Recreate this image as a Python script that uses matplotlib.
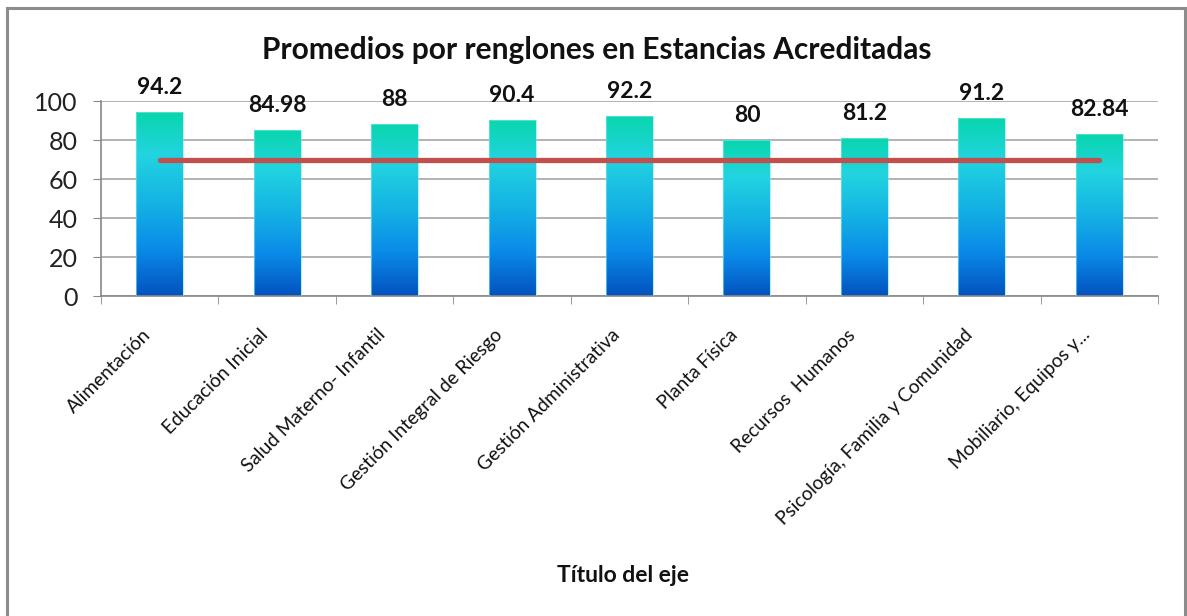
import numpy as np
import matplotlib
matplotlib.use("Agg")
import matplotlib.pyplot as plt
from matplotlib.colors import LinearSegmentedColormap
from matplotlib.lines import Line2D
from matplotlib.transforms import ScaledTranslation

plt.rcParams['font.family'] = ['Lato', 'DejaVu Sans']

# ====================== datos ======================
categorias = ["Alimentación", "Educación Inicial", "Salud Materno- Infantil",
              "Gestión Integral de Riesgo", "Gestión Administrativa", "Planta Física",
              "Recursos  Humanos", "Psicología, Familia y Comunidad", "Mobiliario, Equipos y..."]
promedios = [94.2, 84.98, 88, 90.4, 92.2, 80, 81.2, 91.2, 82.84]
etiquetas = ["94.2", "84.98", "88", "90.4", "92.2", "80", "81.2", "91.2", "82.84"]
meta = [70] * len(categorias)

# degradado de las barras (abajo -> arriba)
grad = LinearSegmentedColormap.from_list("barra", [
    (0.00, "#0352BE"),
    (0.25, "#0A8AE8"),
    (0.50, "#14B2E4"),
    (0.77, "#22D4E0"),
    (1.00, "#08D6AC"),
])

fig = plt.figure(figsize=(11.87, 6.16), dpi=100)
ax = fig.add_axes([101 / 1187, 320 / 616, (1158 - 101) / 1187, 195 / 616])

x = np.arange(len(categorias))
barras = ax.bar(x, promedios, width=0.4, color="none", edgecolor="none", zorder=2)

img = np.linspace(0, 1, 256).reshape(-1, 1)
for b in barras:
    x0, w, h = b.get_x(), b.get_width(), b.get_height()
    im = ax.imshow(img, cmap=grad, origin="lower", aspect="auto",
                   extent=[x0, x0 + w, 0, h], zorder=2)
    im.set_clip_path(b)
    ax.add_patch(plt.Rectangle((x0, 0), w, h, fill=False, edgecolor="#7FE6EE",
                               linewidth=0.8, alpha=0.6, zorder=3))

# línea de referencia
ax.plot(x, meta, color="#C0504D", linewidth=3.8, solid_capstyle="round", zorder=4)

# etiquetas de datos
for xi, v, t in zip(x, promedios, etiquetas):
    ax.annotate(t, (xi, v), xytext=(0, 13), textcoords="offset points",
                ha="center", va="baseline", fontsize=16.5, fontweight="bold",
                color="#111111", annotation_clip=False)

ax.set_xlim(-0.5, len(categorias) - 0.5)
ax.set_ylim(0, 100)
ax.set_yticks(range(0, 101, 20))
ax.tick_params(axis="y", labelsize=18, length=6, color="#888888", pad=11, labelcolor="#222222")
ax.yaxis.grid(True, color="#A6A6A6", linewidth=1.2, zorder=0)
ax.set_axisbelow(True)

ax.set_xticks(x)
ax.set_xticklabels(categorias, rotation=45, ha="right", va="center", rotation_mode="anchor",
                   fontsize=13.8, color="#111111")
ax.tick_params(axis="x", length=0, pad=26)
desplaza = ScaledTranslation(-12 / 100, 0, fig.dpi_scale_trans)
for lab in ax.get_xticklabels():
    lab.set_transform(lab.get_transform() + desplaza)
ax.set_xticks(np.arange(-0.5, len(categorias)), minor=True)
ax.tick_params(axis="x", which="minor", length=6, color="#888888")

for s in ["top", "right"]:
    ax.spines[s].set_visible(False)
for s in ["left", "bottom"]:
    ax.spines[s].set_color("#888888")
    ax.spines[s].set_linewidth(1.2)

fig.text(597 / 1187, 1 - 50 / 616, "Promedios por renglones en Estancias Acreditadas",
         ha="center", va="center", fontsize=21.5, fontweight="bold", color="#111111")
fig.text(623 / 1187, 1 - 576 / 616, "Título del eje",
         ha="center", va="center", fontsize=16.5, fontweight="bold", color="#111111")

# marco exterior del gráfico
for xs, ys in [([7, 7], [616, 8]), ([7, 1185], [8, 8]), ([1185, 1185], [8, 616])]:
    fig.add_artist(Line2D([v / 1187 for v in xs], [1 - v / 616 for v in ys],
                          color="#8C8C8C", linewidth=2.2))

plt.savefig("out.png", dpi=100)
plt.close()
